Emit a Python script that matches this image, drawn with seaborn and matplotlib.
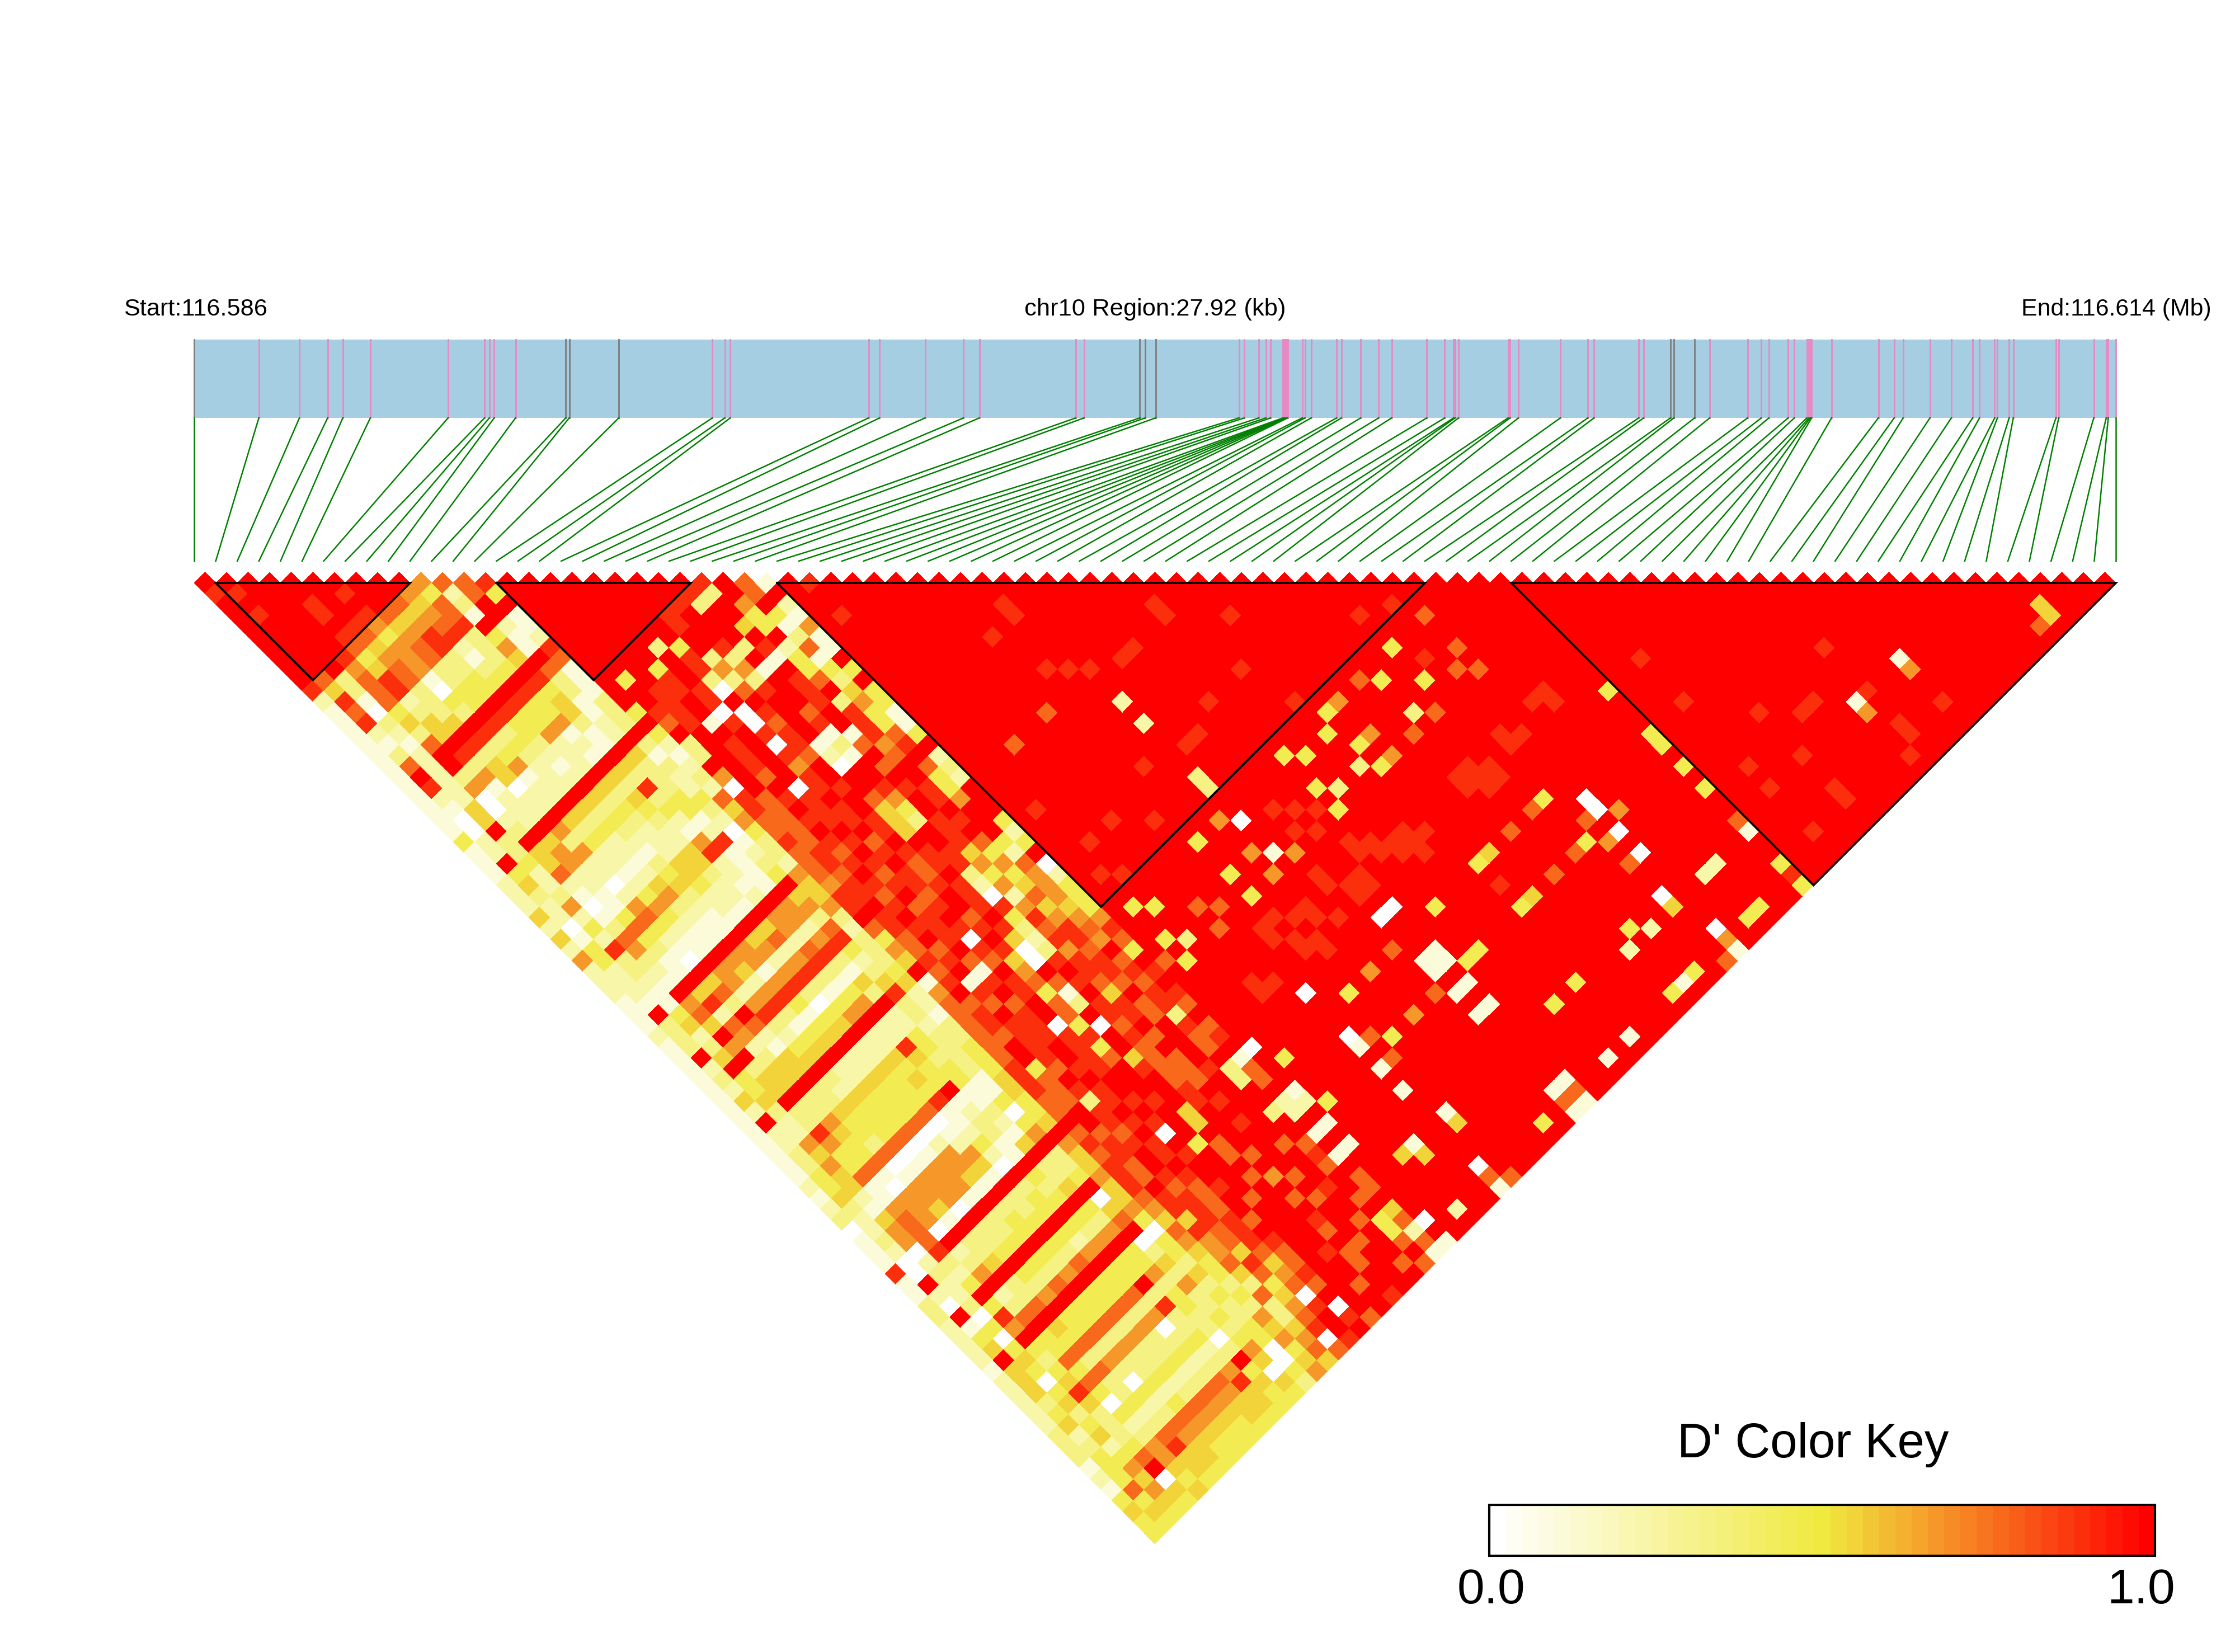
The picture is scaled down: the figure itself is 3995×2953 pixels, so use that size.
import numpy as np
import matplotlib
matplotlib.use("Agg")
import matplotlib.pyplot as plt
from matplotlib.colors import LinearSegmentedColormap
from matplotlib.patches import Rectangle
from matplotlib.transforms import Affine2D
import seaborn as sns

# SNP positions, kb from region start
snp_kb = [0, 0.94, 1.53, 1.94, 2.16, 2.56, 3.69, 4.22, 4.29, 4.36, 4.67, 5.40, 5.45, 6.17,
          7.53, 7.71, 7.79, 9.80, 9.96, 10.62, 11.18, 11.41, 12.81, 12.93, 13.74, 13.82, 13.97,
          15.18, 15.26, 15.47, 15.57, 15.64, 15.82, 15.84, 15.85, 15.86, 15.87, 15.89, 16.10,
          16.14, 16.23, 16.60, 16.67, 16.95, 17.21, 17.40, 17.91, 18.17, 18.30, 18.32, 18.37,
          19.09, 19.12, 19.24, 19.85, 20.25, 20.34, 20.99, 21.06, 21.45, 21.50, 21.80, 22.02,
          22.57, 22.77, 22.88, 23.16, 23.25, 23.43, 23.46, 23.48, 23.50, 23.79, 24.47, 24.70,
          24.83, 25.22, 25.53, 25.84, 25.94, 26.16, 26.20, 26.37, 26.43, 27.05, 27.09, 27.60,
          27.78, 27.81, 27.92]
gray_snps = [0, 11, 12, 13, 24, 25, 26, 59, 60, 61]
region_kb = 27.92

# LD blocks, first and last SNP index
blocks = [(1, 10), (14, 23), (27, 57), (61, 89)]

# D' levels 0-9 (level/9). columns j=11..13, read from i=j-1 down to i=0
left_cols = ["66776778978", "745554546352", "7276666657381"]

# columns j=14..89, i=13 down to i=0
low_cols = [
    "87377876787171", "49188876787081", "99932331324321", "12431330335211",
    "11633444353131", "21544443557271", "89999999999291", "77888888889281",
    "13444433333221", "13544444566211", "11566336510501", "31312221020504",
    "32122122222921", "32112222223321", "99999999999391", "35555555655442",
    "13333333365252", "33854444667232", "23343322222325", "24432222221622",
    "44222111010205", "31122322211412", "22655454643246", "08855566777842",
    "11234334446322", "21222222233322", "31122111112221", "41211111011111",
    "99999999999191", "56655666556432", "66676656787531", "32222122325231",
    "76766666979391", "88888888766521", "43333433229931", "21110112133421",
    "35444444555451", "53665555555521", "89999999999391", "32222223333221",
    "32222222333221", "24855555568631", "34544444456531", "33454444444642",
    "34444444344541", "34987777777552", "11110000011233", "11211211101120",
    "43322666666521", "02346666667631", "41125566567621", "65101110107008",
    "99999999998201", "33433333323391", "33343433332223", "45444444564203",
    "99999999999392", "04444444324012", "53323333338442", "76667676776052",
    "99999999999491", "04444444544552", "34444444443452", "56977777774052",
    "33333333345432", "64866666778542", "34303333345353", "33333330303423",
    "43444444443533", "30222222223241", "43333343334442", "69677777767641",
    "54866666869574", "05555555550645", "54554445545554", "44444444454444",
]

# columns j=27..89, i=26 down to i=14
mid_cols = [
    "1769999898894", "9945983898889", "2449336389874", "1198963089892",
    "6321137901931", "1749989089932", "1148998098993", "9478997898962",
    "4398798098907", "9539898897985", "4689987699786", "4488329808774",
    "1487109889773", "1769998988783", "4877999889772", "9999879898876",
    "2798658987875", "3489458798765", "2489359889886", "9698998978883",
    "9988987887992", "9998887898873", "4975898779843", "2446389888763",
    "4264289989754", "9746087887895", "0652898098712", "2676489879862",
    "4658358711971", "4567205988773", "4688306897873", "6786897879874",
    "8678974988774", "7988817988974", "4787937088985", "9875894898485",
    "8798808897784", "9878794889774", "8879897898775", "7397759983999",
    "9899789988976", "7797799898785", "8797998987875", "9987899898886",
    "1399859089785", "7398959989785", "7999994898976", "9998979987864",
    "2399979978850", "2999799878574", "9979979978864", "1799697987653",
    "9897999787645", "1799799985743", "9987999878534", "7999899757343",
    "7799799764733", "9979989875364", "5497799706354", "7499799987560",
    "2799979098640", "7979999890754", "1799897987563",
]

# single cells (i, j) that stand out of the red field
cells_0 = [(37, 60), (39, 71), (40, 71), (54, 75), (54, 76), (54, 78), (54, 80), (53, 83),
           (54, 87), (27, 71), (32, 75), (32, 71), (32, 87), (27, 87), (36, 64)]
cells_1 = [(40, 75), (39, 75), (40, 76), (39, 76), (39, 78), (40, 78), (40, 80), (39, 80),
           (37, 63), (60, 84), (75, 83), (71, 83), (54, 89), (50, 88), (45, 88), (43, 88),
           (40, 87), (39, 87), (40, 89), (39, 89), (33, 83), (32, 76), (32, 78), (32, 80),
           (30, 83), (32, 89), (27, 89), (27, 75), (27, 78), (27, 80), (23, 31), (22, 31),
           (23, 38), (22, 37), (21, 37)]
cells_2 = [(37, 49), (37, 51), (57, 84), (56, 84), (51, 84), (49, 84), (29, 88), (27, 76)]
cells_3 = [(37, 56), (37, 57), (50, 63), (45, 63), (29, 63), (23, 25), (22, 25), (18, 25),
           (43, 63)]
cells_4 = [(52, 59), (50, 60), (52, 62), (46, 59), (45, 60), (46, 62), (46, 64), (42, 59),
           (43, 60), (42, 62), (42, 64), (34, 59), (34, 62), (34, 64), (28, 59), (29, 60),
           (42, 73), (28, 62), (28, 64), (41, 77), (42, 77), (60, 71), (60, 75), (60, 76),
           (60, 78), (60, 80), (60, 87), (60, 89), (52, 73), (46, 73), (46, 77), (52, 77),
           (57, 88), (56, 88), (50, 83), (51, 88), (49, 88), (45, 83), (43, 83), (34, 73),
           (34, 77), (28, 73), (28, 77), (37, 88), (15, 25), (19, 26), (17, 26)]
cells_5 = [(84, 87), (84, 88), (47, 73), (47, 77), (53, 84), (29, 83), (30, 84), (33, 84)]
cells_6 = [(47, 59), (47, 62), (47, 64), (36, 59), (36, 62), (38, 64), (36, 64), (36, 73),
           (75, 84), (71, 84), (55, 77), (53, 78), (54, 88), (36, 77)]
cells_7 = [(33, 46), (30, 46), (55, 59), (55, 62), (54, 63), (55, 64), (49, 59), (51, 64),
           (49, 64), (31, 62), (32, 63), (31, 64), (27, 63), (38, 73), (83, 88), (51, 73),
           (49, 73), (49, 77), (53, 76), (51, 77), (53, 80), (53, 89), (60, 83), (38, 77),
           (33, 76), (33, 78), (39, 88), (40, 88), (32, 88), (33, 89), (25, 26),
           (23, 68), (22, 68), (23, 69), (22, 69)]
cells_8 = [(35, 53), (53, 61), (28, 32), (34, 40), (36, 40), (36, 39), (43, 46), (43, 47),
           (46, 50), (52, 56), (54, 57), (40, 47), (39, 47), (44, 53), (35, 44), (36, 45),
           (37, 46), (41, 53), (45, 57), (38, 54), (39, 54), (28, 50), (31, 54), (33, 56),
           (29, 54), (29, 57), (28, 56), (60, 88), (72, 87), (63, 83), (66, 87), (46, 75),
           (39, 68), (40, 69), (39, 69), (40, 68), (43, 68), (44, 69), (43, 69), (44, 68),
           (49, 68), (50, 68), (49, 69), (50, 69), (51, 70), (50, 70), (51, 69), (53, 68),
           (53, 69), (54, 69), (56, 68), (57, 69), (57, 68), (44, 70), (45, 69), (34, 68),
           (35, 69), (34, 69), (35, 70), (30, 68), (30, 69), (31, 69), (72, 79), (63, 71),
           (63, 75), (66, 79), (69, 81), (68, 81), (75, 87), (72, 83), (72, 86), (71, 88),
           (66, 83), (63, 81), (66, 86), (63, 87), (0, 2), (1, 3), (1, 5), (6, 8), (4, 8),
           (4, 7), (4, 10), (5, 10), (6, 10), (23, 24), (22, 24), (21, 24), (20, 24), (20, 25),
           (28, 29), (39, 63), (40, 64), (39, 61), (40, 62), (41, 63), (33, 66), (34, 66),
           (33, 67), (35, 67), (36, 67), (36, 68), (37, 69), (41, 66), (41, 67), (42, 67),
           (42, 68), (38, 66), (38, 67)]

n_snps = len(snp_kb)
D = np.ones((n_snps, n_snps))
for j, col in zip(range(11, 14), left_cols):
    for i, c in zip(range(j - 1, -1, -1), col):
        D[i, j] = int(c) / 9
for j, col in zip(range(14, 90), low_cols):
    for i, c in zip(range(13, -1, -1), col):
        D[i, j] = int(c) / 9
for j, col in zip(range(27, 90), mid_cols):
    for i, c in zip(range(26, 13, -1), col):
        D[i, j] = int(c) / 9
for level, cells in enumerate([cells_0, cells_1, cells_2, cells_3, cells_4,
                               cells_5, cells_6, cells_7, cells_8]):
    for i, j in cells:
        D[i, j] = level / 9

# heatmap cell (row i, col j-1) is the pair (i, j)
ld = D[:-1, 1:]
mask = np.tril(np.ones_like(ld, dtype=bool), k=-1)

# same ramp as the colour key, 41 steps
ld_cmap = LinearSegmentedColormap.from_list("ld", ["#FFFFFF", "#F0EA3F", "#FF0000"], N=41)

W, H = 3995, 2953
x0, y0 = 347.0, 1042.0
step = (3782.0 - x0) / (n_snps - 1)

plt.rcParams["font.family"] = ["Liberation Sans", "DejaVu Sans"]
fig = plt.figure(figsize=(W / 300, H / 300), dpi=300)
ax = fig.add_axes([0, 0, 1, 1])
key_ax = fig.add_axes([2662 / W, 1 - 2781 / H, (3852 - 2662) / W, 91 / H])

# rotate the matrix 45 degrees into picture pixels
rot = Affine2D(np.array([[step / 2, step / 2, x0],
                         [step / 2, -step / 2, y0],
                         [0, 0, 1]])) + ax.transData

sns.heatmap(ld, mask=mask, cmap=ld_cmap, vmin=0, vmax=1, ax=ax, cbar_ax=key_ax,
            cbar_kws={"orientation": "horizontal", "ticks": []},
            xticklabels=False, yticklabels=False, transform=rot)
ax.set_xlim(0, W)
ax.set_ylim(H, 0)
ax.axis("off")
key_bar = ax.collections[0].colorbar
key_bar.outline.set_visible(True)
key_bar.outline.set_linewidth(1.0)
key_bar.outline.set_edgecolor("black")

# gene track and the connector lines
snp_x = x0 + np.array(snp_kb) / region_kb * (n_snps - 1) * step
snp_idx = x0 + np.arange(n_snps) * step
ax.add_patch(Rectangle((x0, 607), (n_snps - 1) * step, 140, fc="#A6CEE3", ec="none"))
for k, (xa, xb) in enumerate(zip(snp_x, snp_idx)):
    ax.plot([xa, xa], [607, 747], color="#808080" if k in gray_snps else "#E78AC3", lw=0.7)
    ax.plot([xa, xb], [747, 1003], color="#008000", lw=0.6)

for a, b in blocks:
    ax.plot([a, b, b, a], [a, b, a, a], color="black", lw=0.9, transform=rot,
            solid_joinstyle="miter")

ax.text(221, 564, "Start:116.586", fontsize=10.4, ha="left", va="baseline")
ax.text(2065, 564, "chr10 Region:27.92 (kb)", fontsize=10.45, ha="center", va="baseline")
ax.text(3613, 564, "End:116.614 (Mb)", fontsize=10.3, ha="left", va="baseline")
ax.text(3241, 2605, "D' Color Key", fontsize=20.9, ha="center", va="baseline")
ax.text(2665, 2866, "0.0", fontsize=21, ha="center", va="baseline")
ax.text(3827, 2866, "1.0", fontsize=21, ha="center", va="baseline")

fig.savefig("out.png", dpi=300, facecolor="white")
